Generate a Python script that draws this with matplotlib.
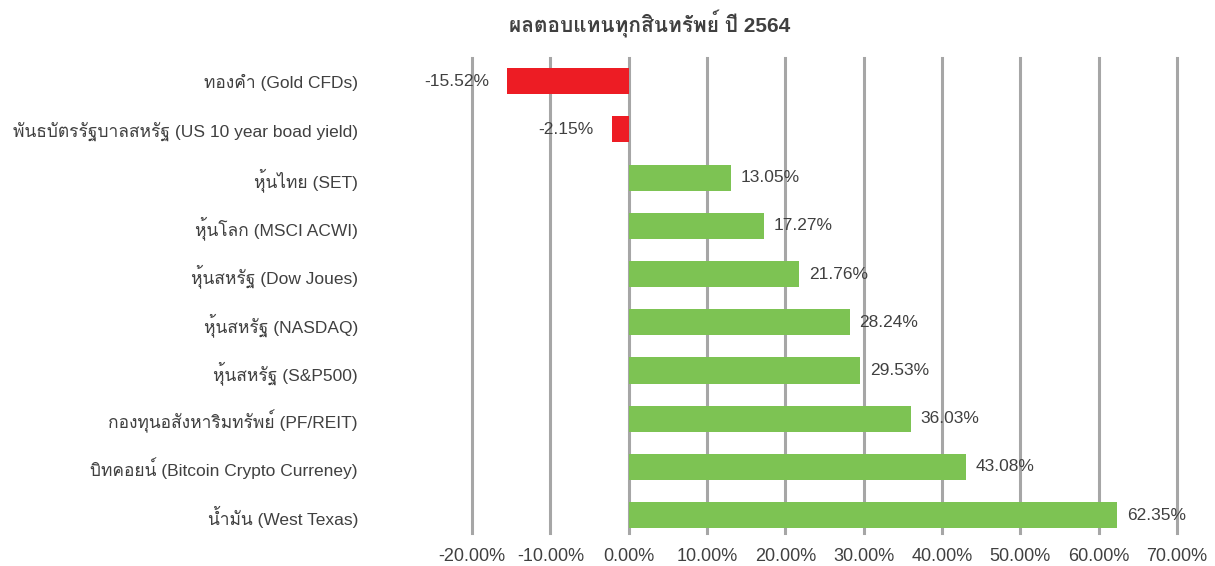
import matplotlib
matplotlib.use("Agg")
import matplotlib.pyplot as plt
from matplotlib import font_manager
from matplotlib.ft2font import FT2Font

# ---- data ----
categories = [
    "ทองคำ (Gold CFDs)",
    "พันธบัตรรัฐบาลสหรัฐ (US 10 year boad yield)",
    "หุ้นไทย (SET)",
    "หุ้นโลก (MSCI ACWI)",
    "หุ้นสหรัฐ (Dow Joues)",
    "หุ้นสหรัฐ (NASDAQ)",
    "หุ้นสหรัฐ (S&P500)",
    "กองทุนอสังหาริมทรัพย์ (PF/REIT)",
    "บิทคอยน์ (Bitcoin Crypto Curreney)",
    "น้ำมัน (West Texas)",
]
returns = [-15.52, -2.15, 13.05, 17.27, 21.76, 28.24, 29.53, 36.03, 43.08, 62.35]
xticks = [-20, -10, 0, 10, 20, 30, 40, 50, 60, 70]
title = "ผลตอบแทนทุกสินทรัพย์ ปี 2564"

# ---- find a font that covers Thai ----
thai_fam = None
for f in font_manager.fontManager.ttflist:
    try:
        cm = FT2Font(f.fname).get_charmap()
        if 0x0E01 in cm and 0x0E33 in cm:
            thai_fam = f.name
            break
    except Exception:
        pass
fams = ["Liberation Sans"]
if thai_fam:
    fams.append(thai_fam)
fams.append("DejaVu Sans")
plt.rcParams["font.family"] = fams

RED = "#ED1C24"
GREEN = "#7DC353"
TXT = "#404040"
GRID = "#A6A6A6"

fig = plt.figure(figsize=(12.15, 5.66), dpi=100)
ax = fig.add_axes([472 / 1215, 1 - 533 / 566, (1177 - 472) / 1215, (533 - 58) / 566])

ypos = list(range(len(categories)))
colors = [RED if v < 0 else GREEN for v in returns]
ax.barh(ypos, returns, height=0.54, color=colors, zorder=3)

ax.set_xlim(-20, 70)
ax.set_ylim(9.37, -0.48)
ax.set_xticks(xticks)
ax.set_xticklabels([f"{t:.2f}%" for t in xticks], color=TXT, fontsize=13)
ax.set_yticks(ypos)
ax.set_yticklabels(categories, color=TXT, fontsize=12.5)
ax.tick_params(axis="y", length=0, pad=114 * 72 / 100)
ax.tick_params(axis="x", length=0, pad=11)
ax.grid(axis="x", color=GRID, linewidth=2.2, zorder=0)
for l in ax.get_xgridlines():
    l.set_clip_on(False)
for s in ax.spines.values():
    s.set_visible(False)

for y, v in zip(ypos, returns):
    if v < 0:
        ax.annotate(f"{v:.2f}%", (v, y), xytext=(-13, 0), textcoords="offset points",
                    ha="right", va="center", color=TXT, fontsize=12.5, zorder=4)
    else:
        ax.annotate(f"{v:.2f}%", (v, y), xytext=(7, 0), textcoords="offset points",
                    ha="left", va="center", color=TXT, fontsize=12.5, zorder=4)

fig.text(650 / 1215, 1 - 24 / 566, title, ha="center", va="center",
         fontsize=15, fontweight="bold", color=TXT)

fig.savefig("out.png", dpi=100, facecolor="white")
